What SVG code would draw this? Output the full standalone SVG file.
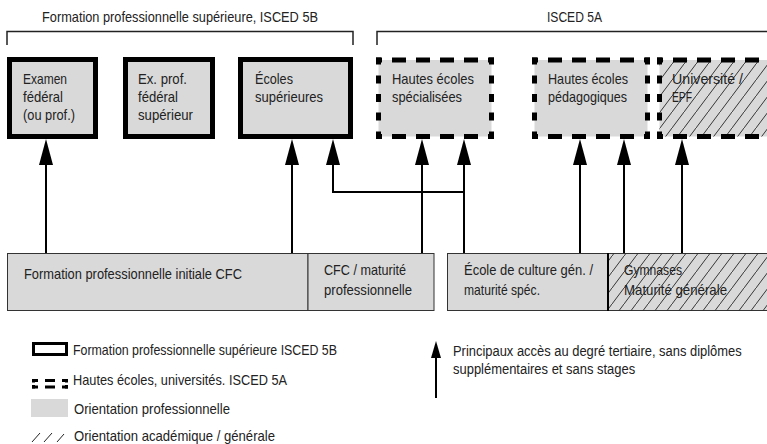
<svg xmlns="http://www.w3.org/2000/svg" width="767" height="444" viewBox="0 0 767 444">
<style>
.t{font-family:"Liberation Sans",Arial,sans-serif;font-size:14.5px;fill:#222}
.gray{fill:#d9d9d9}
.solid{fill:#d9d9d9;stroke:#000;stroke-width:5}
.dh{fill:none;stroke:#000;stroke-width:5;stroke-dasharray:6 10 14 10 14 10 14 10 14 10 6}
.dv{fill:none;stroke:#000;stroke-width:5;stroke-dasharray:7 11 8 10.5 8 10.5 8 11 7}
.hatch{fill:url(#hatch)}
.thin{fill:#d9d9d9;stroke:#333;stroke-width:1}
.br{fill:none;stroke:#222;stroke-width:1.5}
.arrow{fill:none;stroke:#000;stroke-width:2;marker-end:url(#ah)}
</style>
<defs>
<pattern id="hatch" patternUnits="userSpaceOnUse" width="12" height="16">
<line x1="-1" y1="17.33" x2="13" y2="-1.33" stroke="#222" stroke-width="0.9"/>
</pattern>
<marker id="ah" markerUnits="userSpaceOnUse" viewBox="0 0 26 14" markerWidth="26" markerHeight="14" refX="15" refY="7" orient="auto">
<path d="M0,0 L26,7 L0,14 Z" fill="#000"/>
</marker>
<marker id="ahs" markerUnits="userSpaceOnUse" viewBox="0 0 17 10" markerWidth="17" markerHeight="10" refX="10" refY="5" orient="auto">
<path d="M0,0 L17,5 L0,10 Z" fill="#000"/>
</marker>
</defs>

<g id="headers">
<path class="br" d="M7,45 V31.5 H353 V45"/>
<path class="br" d="M377,45 V31.5 H770"/>
<text class="t" x="42" y="22" textLength="276" lengthAdjust="spacingAndGlyphs">Formation professionnelle supérieure, ISCED 5B</text>
<text class="t" x="547" y="22" textLength="55" lengthAdjust="spacingAndGlyphs">ISCED 5A</text>
</g>

<g id="examen-federal">
<rect class="solid" x="9.5" y="59.5" width="86" height="77"/>
<text class="t" x="23" y="84" textLength="44" lengthAdjust="spacingAndGlyphs">Examen</text>
<text class="t" x="23" y="102" textLength="40" lengthAdjust="spacingAndGlyphs">fédéral</text>
<text class="t" x="23" y="120" textLength="52" lengthAdjust="spacingAndGlyphs">(ou prof.)</text>
</g>

<g id="ex-prof-federal-superieur">
<rect class="solid" x="125.5" y="59.5" width="87" height="77"/>
<text class="t" x="138" y="84" textLength="49" lengthAdjust="spacingAndGlyphs">Ex. prof.</text>
<text class="t" x="138" y="102" textLength="40" lengthAdjust="spacingAndGlyphs">fédéral</text>
<text class="t" x="138" y="120" textLength="55" lengthAdjust="spacingAndGlyphs">supérieur</text>
</g>

<g id="ecoles-superieures">
<rect class="solid" x="240.5" y="59.5" width="110" height="77"/>
<text class="t" x="255" y="84" textLength="38" lengthAdjust="spacingAndGlyphs">Écoles</text>
<text class="t" x="255" y="102" textLength="68" lengthAdjust="spacingAndGlyphs">supérieures</text>
</g>

<g id="hautes-ecoles-specialisees">
<rect class="gray" x="378.5" y="60" width="113" height="76.5"/>
<text class="t" x="392" y="84" textLength="82" lengthAdjust="spacingAndGlyphs">Hautes écoles</text>
<text class="t" x="392" y="102" textLength="70" lengthAdjust="spacingAndGlyphs">spécialisées</text>
<path class="dh" d="M376,60 H494 M376,136.5 H494"/>
<path class="dv" d="M378.5,57.5 V138.5 M491.5,57.5 V138.5"/>
</g>

<g id="hautes-ecoles-pedagogiques">
<rect class="gray" x="534.5" y="60" width="113" height="76.5"/>
<text class="t" x="548" y="84" textLength="80" lengthAdjust="spacingAndGlyphs">Hautes écoles</text>
<text class="t" x="548" y="102" textLength="79" lengthAdjust="spacingAndGlyphs">pédagogiques</text>
<path class="dh" d="M532,60 H650 M532,136.5 H650"/>
<path class="dv" d="M534.5,57.5 V138.5 M647.5,57.5 V138.5"/>
</g>

<g id="universite-epf">
<rect class="gray" x="659.5" y="60" width="113" height="76.5"/>
<text class="t" x="672" y="84" textLength="71" lengthAdjust="spacingAndGlyphs">Université /</text>
<text class="t" x="672" y="102" textLength="20" lengthAdjust="spacingAndGlyphs">EPF</text>
<rect class="hatch" x="659.5" y="60" width="113" height="76.5"/>
<path class="dh" d="M657,60 H775 M657,136.5 H775"/>
<path class="dv" d="M659.5,57.5 V138.5 M772.5,57.5 V138.5"/>
</g>

<g id="formation-initiale-cfc">
<rect class="thin" x="7.5" y="253.5" width="300.5" height="57"/>
<text class="t" x="24" y="279" textLength="218" lengthAdjust="spacingAndGlyphs">Formation professionnelle initiale CFC</text>
</g>

<g id="cfc-maturite-pro">
<rect class="thin" x="308" y="253.5" width="126" height="57"/>
<text class="t" x="324" y="275" textLength="82" lengthAdjust="spacingAndGlyphs">CFC / maturité</text>
<text class="t" x="324" y="295" textLength="88" lengthAdjust="spacingAndGlyphs">professionnelle</text>
</g>

<g id="ecole-culture-generale">
<rect class="thin" x="447.5" y="253.5" width="160.5" height="57"/>
<text class="t" x="464" y="275" textLength="129" lengthAdjust="spacingAndGlyphs">École de culture gén. /</text>
<text class="t" x="464" y="295" textLength="76" lengthAdjust="spacingAndGlyphs">maturité spéc.</text>
</g>

<g id="gymnases">
<rect class="thin" x="608" y="253.5" width="165" height="57"/>
<text class="t" x="624" y="275" textLength="58" lengthAdjust="spacingAndGlyphs">Gymnases</text>
<text class="t" x="624" y="295" textLength="103" lengthAdjust="spacingAndGlyphs">Maturité générale</text>
<rect class="hatch" x="608" y="253.5" width="165" height="57"/>
<line x1="608" y1="253" x2="608" y2="311" stroke="#000" stroke-width="2"/>
</g>

<g id="connectors">
<line class="arrow" x1="46" y1="253" x2="46" y2="150"/>
<line class="arrow" x1="292" y1="253" x2="292" y2="150"/>
<line class="arrow" x1="422" y1="253" x2="422" y2="150"/>
<line class="arrow" x1="464" y1="253" x2="464" y2="150"/>
<path class="arrow" d="M464,192 H333 V150"/>
<line class="arrow" x1="580" y1="253" x2="580" y2="150"/>
<line class="arrow" x1="624" y1="253" x2="624" y2="150"/>
<line class="arrow" x1="682" y1="253" x2="682" y2="150"/>
</g>

<g id="legend">
<rect x="33.5" y="343.5" width="33" height="11" fill="none" stroke="#000" stroke-width="3"/>
<text class="t" x="73" y="355" textLength="264" lengthAdjust="spacingAndGlyphs">Formation professionnelle supérieure ISCED 5B</text>
<path d="M32,380.5 H68 M32,387 H68" fill="none" stroke="#000" stroke-width="3" stroke-dasharray="6 7 10 7 6"/>
<path d="M33.5,379 V388.5 M66.5,379 V388.5" fill="none" stroke="#000" stroke-width="3" stroke-dasharray="3.5 2.5 3.5"/>
<text class="t" x="73" y="385" textLength="214" lengthAdjust="spacingAndGlyphs">Hautes écoles, universités. ISCED 5A</text>
<rect class="gray" x="31" y="399" width="37" height="18"/>
<text class="t" x="74" y="414" textLength="156" lengthAdjust="spacingAndGlyphs">Orientation professionnelle</text>
<path d="M32,442 L40,433 M44,442 L52,433 M57,442 L64,434" fill="none" stroke="#222" stroke-width="1"/>
<text class="t" x="74" y="441" textLength="201" lengthAdjust="spacingAndGlyphs">Orientation académique / générale</text>
<line x1="436" y1="398" x2="436" y2="348" stroke="#000" stroke-width="2" marker-end="url(#ahs)"/>
<g transform="translate(453,0) scale(0.88,1)">
<text class="t" x="0" y="356" textLength="328" lengthAdjust="spacingAndGlyphs">Principaux accès au degré tertiaire, sans diplômes</text>
<text class="t" x="0" y="374" textLength="207" lengthAdjust="spacingAndGlyphs">supplémentaires et sans stages</text>
</g>
</g>
</svg>
